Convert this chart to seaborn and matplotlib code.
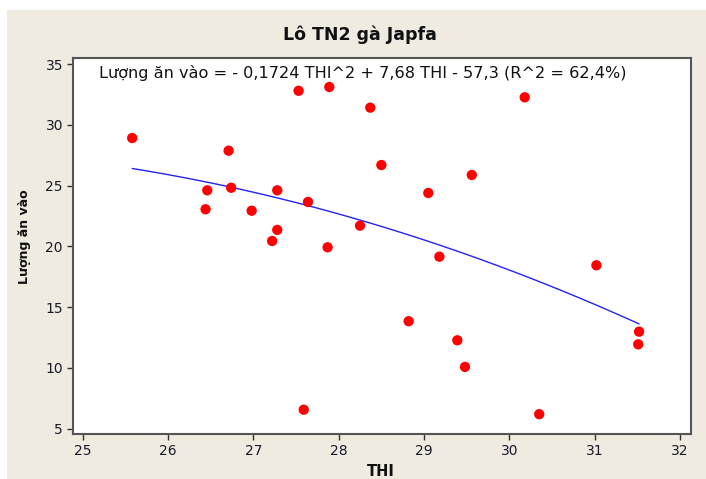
import matplotlib
matplotlib.use("Agg")
import matplotlib.pyplot as plt
import seaborn as sns
import numpy as np
import pandas as pd
from matplotlib.patches import Rectangle

thi = [25.58, 26.71, 26.46, 26.74, 26.44, 26.98, 27.28, 27.28, 27.22, 27.64,
       27.53, 27.89, 27.87, 27.59, 28.25, 28.37, 28.50, 28.82, 29.05, 29.18,
       29.39, 29.48, 29.56, 30.18, 30.35, 31.02, 31.52, 31.51]
luong = [28.91, 27.87, 24.61, 24.82, 23.05, 22.93, 24.61, 21.35, 20.44, 23.65,
         32.80, 33.11, 19.92, 6.56, 21.70, 31.41, 26.69, 13.84, 24.39, 19.15,
         12.27, 10.08, 25.87, 32.26, 6.19, 18.44, 12.98, 11.94]
xticks = [25, 26, 27, 28, 29, 30, 31, 32]
yticks = [5, 10, 15, 20, 25, 30, 35]
title = "Lô TN2 gà Japfa"
xlabel = "THI"
ylabel = "Lượng ăn vào"
equation = "Lượng ăn vào = - 0,1724 THI^2 + 7,68 THI - 57,3 (R^2 = 62,4%)"

df = pd.DataFrame({"THI": thi, "Luong": luong})

sns.set_theme(style="white")
plt.rcParams['font.family'] = ['DejaVu Sans']

W, H = 706, 479
fig = plt.figure(figsize=(W / 100, H / 100), dpi=100, facecolor="white")
bg = "#EFEBE1"
fig.patches.append(Rectangle((7 / W, 0), 1 - 7 / W, 1 - 10 / H, transform=fig.transFigure,
                             facecolor=bg, edgecolor="none", zorder=-10))

ax = fig.add_axes([72.7 / W, 1 - 434 / H, (690.7 - 72.7) / W, (434 - 57.7) / H])
ax.set_facecolor("white")

sns.regplot(data=df, x="THI", y="Luong", order=2, ci=None, scatter=False,
            line_kws=dict(color="#2424F0", lw=1.0), ax=ax)
sns.scatterplot(data=df, x="THI", y="Luong", color="#FF0000", s=55,
                edgecolor="none", ax=ax, zorder=3)

ax.set_xlim(24.883, 32.125)
ax.set_ylim(4.56, 35.52)
ax.set_xticks(xticks)
ax.set_yticks(yticks)
ax.tick_params(axis="both", direction="out", length=4, width=1, color="#333333",
               labelsize=10, labelcolor="#1a1a2a", pad=3, bottom=True, left=True)
for s in ax.spines.values():
    s.set_color("#555555")
    s.set_linewidth(1.5)
ax.set_xlabel("")
ax.set_ylabel("")

fig.text(360 / W, 1 - 35 / H, title, ha="center", va="center", fontsize=12.5,
         fontweight="bold", color="#111111")
fig.text(381 / W, 1 - 471 / H, xlabel, ha="center", va="center", fontsize=10.5,
         fontweight="bold", color="#111111")
fig.text(25 / W, 1 - 237 / H, ylabel, ha="center", va="center", fontsize=9,
         fontweight="bold", rotation=90, color="#111111")
fig.text(99 / W, 1 - 73 / H, equation, ha="left", va="center", fontsize=11.6,
         color="#111111")

fig.savefig("out.png", dpi=100, facecolor=fig.get_facecolor())
